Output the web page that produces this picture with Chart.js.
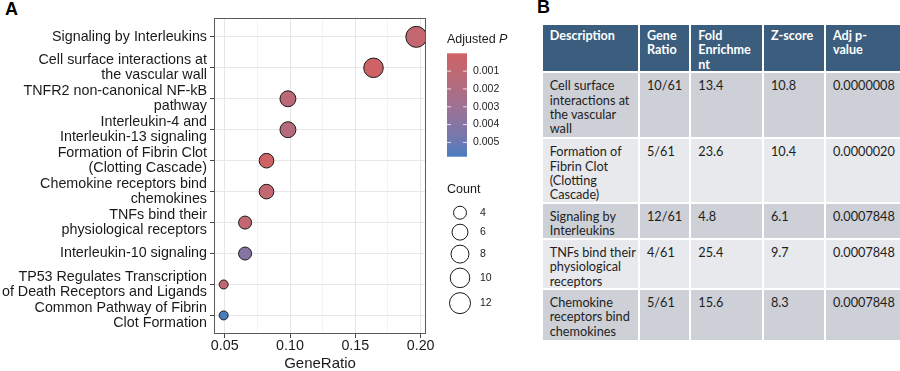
<!DOCTYPE html>
<html><head><meta charset="utf-8">
<script src="https://cdn.jsdelivr.net/npm/chart.js@4.4.1/dist/chart.umd.min.js"></script>
<style>
html,body{margin:0;padding:0;background:#fff;width:900px;height:371px;overflow:hidden;font-family:"Liberation Sans",Arial,sans-serif;}
#wrapA{position:absolute;left:0;top:0;width:530px;height:371px;}
.panel-label{position:absolute;font-weight:bold;font-size:18px;font-family:"Liberation Sans",Arial,sans-serif;color:#000;}
#tbl{position:absolute;left:542.7px;top:25px;display:grid;column-gap:2px;row-gap:2px;background:#fff;
  grid-template-columns:95.3px 49.3px 70.7px 60px 74px;grid-template-rows:46.3px 64px 62.7px 34px 48px 50px;}
.cell{box-sizing:border-box;padding:5px 2px 0 7px;font-family:Lato,"Open Sans",sans-serif;font-size:12.7px;line-height:14.3px;white-space:nowrap;color:#1e1e1e;overflow:hidden;}
.hd{background:#3C5E7E;color:#fff;font-weight:bold;font-size:12.6px;padding-top:4px;}
.odd{background:#CDD0D7;}
.even{background:#E7E9ED;}
</style></head>
<body>
<div class="panel-label" style="left:5px;top:-1px">A</div>
<div class="panel-label" style="left:537px;top:-3px">B</div>
<div id="wrapA"><canvas id="c"></canvas></div>
<div id="tbl"></div>
<script>
// ---------- Panel A data ----------
const categories = [
  ["Signaling by Interleukins"],
  ["Cell surface interactions at","the vascular wall"],
  ["TNFR2 non-canonical NF-kB","pathway"],
  ["Interleukin-4 and","Interleukin-13 signaling"],
  ["Formation of Fibrin Clot","(Clotting Cascade)"],
  ["Chemokine receptors bind","chemokines"],
  ["TNFs bind their","physiological receptors"],
  ["Interleukin-10 signaling"],
  ["TP53 Regulates Transcription","of Death Receptors and Ligands"],
  ["Common Pathway of Fibrin","Clot Formation"]
];
const geneRatio = [0.1967, 0.1639, 0.0984, 0.0984, 0.0820, 0.0820, 0.0656, 0.0656, 0.0492, 0.0492];
const geneCount = [12, 10, 6, 6, 5, 5, 4, 4, 3, 3];
const adjP = [0.0007848, 0.0000008, 0.0012, 0.0016, 0.0000020, 0.0007848, 0.0007848, 0.0040, 0.0009, 0.0058];
const xMajorTicks = [0.05, 0.10, 0.15, 0.20];
const xMinorTicks = [0.075, 0.125, 0.175];
const pLegendTicks = [0.001, 0.002, 0.003, 0.004, 0.005];
const countLegend = [4, 6, 8, 10, 12];

// ---------- Panel B data ----------
const tableHeaders = [["Description"],["Gene","Ratio"],["Fold","Enrichme","nt"],["Z-score"],["Adj p-","value"]];
const tableDescription = [["Cell surface","interactions at","the vascular","wall"],["Formation of","Fibrin Clot","(Clotting","Cascade)"],["Signaling by","Interleukins"],["TNFs bind their","physiological","receptors"],["Chemokine","receptors bind","chemokines"]];
const tableGeneRatio = ["10/61","5/61","12/61","4/61","5/61"];
const tableFoldEnrichment = ["13.4","23.6","4.8","25.4","15.6"];
const tableZScore = ["10.8","10.4","6.1","9.7","8.3"];
const tableAdjP = ["0.0000008","0.0000020","0.0007848","0.0007848","0.0007848"];

// ---------- table ----------
(function(){
  const tbl = document.getElementById('tbl');
  const add = (lines, cls) => { const d=document.createElement('div'); d.className='cell '+cls; lines.forEach((l,i)=>{ if(i) d.appendChild(document.createElement('br')); d.appendChild(document.createTextNode(l)); }); tbl.appendChild(d); };
  tableHeaders.forEach(h => add(h,'hd'));
  tableDescription.forEach((desc,i) => {
    const cls = i%2===0 ? 'odd' : 'even';
    add(desc,cls); add([tableGeneRatio[i]],cls); add([tableFoldEnrichment[i]],cls); add([tableZScore[i]],cls); add([tableAdjP[i]],cls);
  });
})();

// ---------- colour scale (Lab interpolation like ggplot) ----------
const lowCol = [206, 98, 100], highCol = [72, 124, 192];
function s2l(c){c/=255;return c<=0.04045?c/12.92:Math.pow((c+0.055)/1.055,2.4);}
function l2s(c){const v=c<=0.0031308?12.92*c:1.055*Math.pow(Math.max(c,0),1/2.4)-0.055;return Math.round(Math.max(0,Math.min(1,v))*255);}
function rgb2lab(rgb){const R=s2l(rgb[0]),G=s2l(rgb[1]),B=s2l(rgb[2]);
  const X=(0.4124*R+0.3576*G+0.1805*B)/0.95047,Y=0.2126*R+0.7152*G+0.0722*B,Z=(0.0193*R+0.1192*G+0.9505*B)/1.08883;
  const f=t=>t>0.008856?Math.cbrt(t):(7.787*t+16/116);const fx=f(X),fy=f(Y),fz=f(Z);
  return [116*fy-16,500*(fx-fy),200*(fy-fz)];}
function lab2rgb(lab){const fy=(lab[0]+16)/116,fx=fy+lab[1]/500,fz=fy-lab[2]/200;
  const fi=t=>t*t*t>0.008856?t*t*t:(t-16/116)/7.787;
  const X=fi(fx)*0.95047,Y=fi(fy),Z=fi(fz)*1.08883;
  return [l2s(3.2406*X-1.5372*Y-0.4986*Z),l2s(-0.9689*X+1.8758*Y+0.0415*Z),l2s(0.0557*X-0.2040*Y+1.0570*Z)];}
const labLow = rgb2lab(lowCol), labHigh = rgb2lab(highCol);
function colorAt(t){const l=[0,1,2].map(i=>labLow[i]+(labHigh[i]-labLow[i])*t);const c=lab2rgb(l);return `rgb(${c[0]},${c[1]},${c[2]})`;}
const pMin = Math.min(...adjP), pMax = Math.max(...adjP);
const pColor = p => colorAt((p-pMin)/(pMax-pMin));

// ---------- size scale (area, like ggplot scale_size) ----------
const cMin = Math.min(...geneCount), cMax = Math.max(...geneCount);
const radiusFor = c => (9 + 12*Math.sqrt(Math.max(0,(c-cMin))/(cMax-cMin)))/2;

const points = categories.map((c,i)=>({x:geneRatio[i], y:i, count:geneCount[i], p:adjP[i]}));

const TXT = '#1a1a1a';
const FAM = '"Liberation Sans", Arial, sans-serif';

const extrasPlugin = {
  id:'extras',
  afterDatasetsDraw(chart){
    const {ctx, chartArea:a} = chart;
    ctx.save();
    ctx.strokeStyle='#5a5a5a'; ctx.lineWidth=1;
    ctx.strokeRect(Math.round(a.left)+0.5, Math.round(a.top)+0.5, Math.round(a.right-a.left)-1, Math.round(a.bottom-a.top)-1);
    ctx.restore();
  },
  afterDraw(chart){
    const ctx = chart.ctx;
    ctx.save();
    ctx.fillStyle=TXT; ctx.textBaseline='middle'; ctx.textAlign='left';
    ctx.font='12.5px '+FAM;
    const t1='Adjusted ';
    ctx.fillText(t1,447,40);
    const w=ctx.measureText(t1).width;
    ctx.font='italic 12.5px '+FAM;
    ctx.fillText('P',447+w,40);
    const bx=447, by=53.3, bw=20, bh=103.4;
    const g=ctx.createLinearGradient(0,by,0,by+bh);
    for(let i=0;i<=30;i++) g.addColorStop(i/30,colorAt(i/30));
    ctx.fillStyle=g; ctx.fillRect(bx,by,bw,bh);
    ctx.font='10.5px '+FAM;
    pLegendTicks.forEach(p=>{
      const y=by+(p-pMin)/(pMax-pMin)*bh;
      ctx.strokeStyle='rgba(255,255,255,0.8)'; ctx.lineWidth=1;
      ctx.beginPath(); ctx.moveTo(bx,y); ctx.lineTo(bx+4,y); ctx.moveTo(bx+bw-4,y); ctx.lineTo(bx+bw,y); ctx.stroke();
      ctx.fillStyle='#222'; ctx.fillText(p.toFixed(3),473,y);
    });
    ctx.fillStyle=TXT; ctx.font='12.5px '+FAM;
    ctx.fillText('Count',447,190);
    let y=212.7, prevR=null;
    countLegend.forEach(c=>{
      const r=radiusFor(c);
      if(prevR!==null) y+=prevR+r+5;
      ctx.beginPath(); ctx.arc(460,y,r,0,Math.PI*2);
      ctx.strokeStyle='#1a1a1a'; ctx.lineWidth=1; ctx.stroke();
      ctx.fillStyle='#222'; ctx.font='10.5px '+FAM;
      ctx.fillText(String(c),480,y);
      prevR=r;
    });
    ctx.restore();
  }
};

new Chart(document.getElementById('c'), {
  type:'scatter',
  data:{datasets:[{
    data:points,
    pointRadius:ctx=>radiusFor(ctx.raw.count),
    pointHoverRadius:ctx=>radiusFor(ctx.raw.count),
    pointBackgroundColor:ctx=>pColor(ctx.raw.p),
    pointBorderColor:'#1a1a1a',
    pointBorderWidth:1
  }]},
  options:{
    responsive:true, maintainAspectRatio:false, animation:false, devicePixelRatio:1,
    layout:{padding:{left:0,top:18,right:104,bottom:0}},
    plugins:{legend:{display:false},tooltip:{enabled:false}},
    scales:{
      x:{
        type:'linear', min:0.0418, max:0.2041,
        afterBuildTicks:ax=>{ax.ticks=[...xMajorTicks,...xMinorTicks].sort((a,b)=>a-b).map(v=>({value:v}));},
        afterFit:s=>{s.height=37;},
        border:{display:false},
        grid:{
          color:c=>xMinorTicks.some(v=>Math.abs(v-c.tick.value)<1e-9)?'#F3F3F3':'#E6E6E6',
          tickColor:c=>xMinorTicks.some(v=>Math.abs(v-c.tick.value)<1e-9)?'rgba(0,0,0,0)':'#444',
          tickLength:4, lineWidth:1
        },
        ticks:{
          autoSkip:false, maxRotation:0, padding:-1,
          color:TXT, font:{family:FAM,size:14.3},
          callback:v=>xMajorTicks.some(m=>Math.abs(m-v)<1e-9)?v.toFixed(2):''
        },
        title:{display:true,text:'GeneRatio',color:TXT,font:{family:FAM,size:15,lineHeight:1},padding:{top:0,bottom:0}}
      },
      y:{
        type:'linear', reverse:true, min:-0.6, max:categories.length-0.4,
        afterBuildTicks:ax=>{ax.ticks=categories.map((c,i)=>({value:i}));},
        afterFit:s=>{s.width=214;},
        border:{display:false},
        grid:{color:'#E8E8E8', tickColor:'#444', tickLength:4, lineWidth:1},
        ticks:{
          autoSkip:false, padding:3, color:TXT,
          font:{family:FAM,size:14.3,lineHeight:1.07},
          callback:v=>categories[v]
        }
      }
    }
  },
  plugins:[extrasPlugin]
});
</script>
</body></html>
